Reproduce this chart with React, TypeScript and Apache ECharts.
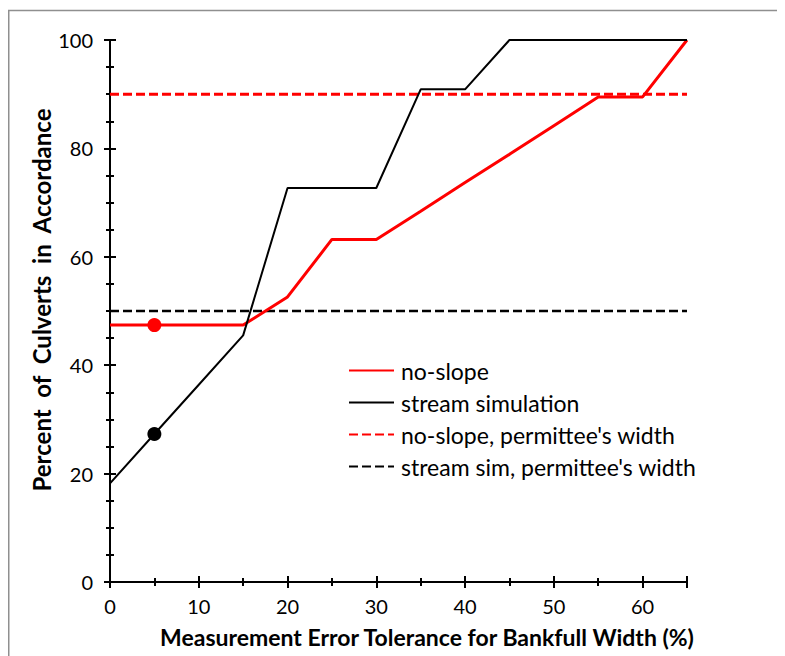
import React, { useEffect, useRef } from "react";
import * as echarts from "echarts";

const xTol = [0, 5, 10, 15, 20, 25, 30, 35, 40, 45, 50, 55, 60, 65];
const noSlope = [47.4, 47.4, 47.4, 47.4, 52.6, 63.2, 63.2, 68.4, 73.7, 78.9, 84.2, 89.5, 89.5, 100];
const streamSim = [18.2, 27.3, 36.4, 45.5, 72.7, 72.7, 72.7, 90.9, 90.9, 100, 100, 100, 100, 100];
const noSlopePermittee = 90;
const streamSimPermittee = 50;
const highlightX = 5;
const noSlopeHighlight = 47.4;
const streamSimHighlight = 27.3;

const seriesNames = [
  "no-slope",
  "stream simulation",
  "no-slope, permittee's width",
  "stream sim, permittee's width",
];
const xTitle = "Measurement Error Tolerance for Bankfull Width (%)";
const yTitle = "Percent  of  Culverts  in  Accordance";

const FONT = "Lato";

export default function App() {
  const ref = useRef<HTMLDivElement>(null);
  useEffect(() => {
    if (!ref.current) return;
    const chart = echarts.init(ref.current, null, { renderer: "svg" });
    const xMin = xTol[0];
    const xMax = xTol[xTol.length - 1];
    const axisCommon = (inside: boolean, showLabel: boolean) => ({
      axisLine: { show: !inside, lineStyle: { color: "#000", width: 2 } },
      axisTick: { show: true, inside, length: 6, lineStyle: { color: "#000", width: 2 } },
      minorTick: { show: true, length: 4, lineStyle: { color: "#000", width: 2 } },
      splitLine: { show: false },
      axisLabel: {
        show: showLabel,
        color: "#000",
        fontSize: 20,
        fontFamily: FONT,
      },
    });
    const xAxisBase = (inside: boolean, showLabel: boolean) => {
      const c: any = axisCommon(inside, showLabel);
      c.minorTick.splitNumber = 2;
      c.axisLabel.margin = 14;
      c.axisLabel.formatter = (v: number) => (v % 10 === 0 ? String(v) : "");
      return {
        type: "value",
        min: xMin,
        max: xMax,
        interval: 10,
        position: "bottom",
        offset: 0,
        ...c,
      };
    };
    const yAxisBase = (inside: boolean, showLabel: boolean) => {
      const c: any = axisCommon(inside, showLabel);
      c.minorTick.splitNumber = 4;
      c.axisLabel.margin = 17;
      return {
        type: "value",
        min: 0,
        max: 100,
        interval: 20,
        position: "left",
        offset: 0,
        ...c,
      };
    };
    chart.setOption({
      animation: false,
      backgroundColor: "#fff",
      grid: { left: 102, top: 32, width: 577, height: 542, containLabel: false },
      xAxis: [xAxisBase(false, true), xAxisBase(true, false)],
      yAxis: [yAxisBase(false, true), yAxisBase(true, false)],
      legend: {
        orient: "vertical",
        left: 340,
        top: 349,
        padding: 0,
        itemWidth: 45,
        itemHeight: 14,
        itemGap: 5,
        data: seriesNames,
        itemStyle: { opacity: 0 },
        textStyle: {
          color: "#000",
          fontSize: 23,
          fontFamily: FONT,
          lineHeight: 27,
          padding: [0, 0, 0, 2],
        },
      },
      graphic: [
        {
          type: "rect",
          silent: true,
          shape: { x: 0.75, y: 2.5, width: 1200, height: 1200 },
          style: { fill: "none", stroke: "#8f8f8f", lineWidth: 1.5 },
        },
        {
          type: "text",
          x: 33,
          y: 292,
          rotation: Math.PI / 2,
          style: {
            text: yTitle,
            fontSize: 24,
            fontWeight: "bold",
            fontFamily: FONT,
            fill: "#000",
            align: "center",
            verticalAlign: "middle",
          },
        },
        {
          type: "text",
          x: 419,
          y: 629,
          style: {
            text: xTitle,
            fontSize: 23,
            fontWeight: "bold",
            fontFamily: FONT,
            fill: "#000",
            align: "center",
            verticalAlign: "middle",
          },
        },
      ],
      series: [
        {
          name: seriesNames[3],
          type: "line",
          symbol: "none",
          data: [
            [xMin, streamSimPermittee],
            [xMax, streamSimPermittee],
          ],
          lineStyle: { color: "#000", width: 2.5, type: [9, 4] },
          itemStyle: { color: "#000" },
          z: 2,
        },
        {
          name: seriesNames[2],
          type: "line",
          symbol: "none",
          data: [
            [xMin, noSlopePermittee],
            [xMax, noSlopePermittee],
          ],
          lineStyle: { color: "#ff0000", width: 3, type: [9, 4] },
          itemStyle: { color: "#ff0000" },
          z: 3,
        },
        {
          name: seriesNames[0],
          type: "line",
          symbol: "none",
          data: xTol.map((x, i) => [x, noSlope[i]]),
          lineStyle: { color: "#ff0000", width: 3 },
          itemStyle: { color: "#ff0000" },
          z: 2,
        },
        {
          name: seriesNames[1],
          type: "line",
          symbol: "none",
          data: xTol.map((x, i) => [x, streamSim[i]]),
          lineStyle: { color: "#000", width: 2 },
          itemStyle: { color: "#000" },
          z: 4,
        },
        {
          name: "highlight-no-slope",
          type: "scatter",
          symbol: "circle",
          symbolSize: 14,
          data: [[highlightX, noSlopeHighlight]],
          itemStyle: { color: "#ff0000", opacity: 1 },
          z: 5,
        },
        {
          name: "highlight-stream",
          type: "scatter",
          symbol: "circle",
          symbolSize: 14,
          data: [[highlightX, streamSimHighlight]],
          itemStyle: { color: "#000", opacity: 1 },
          z: 5,
        },
      ],
    });
    return () => chart.dispose();
  }, []);
  return <div ref={ref} style={{ width: 777, height: 648 }} />;
}
